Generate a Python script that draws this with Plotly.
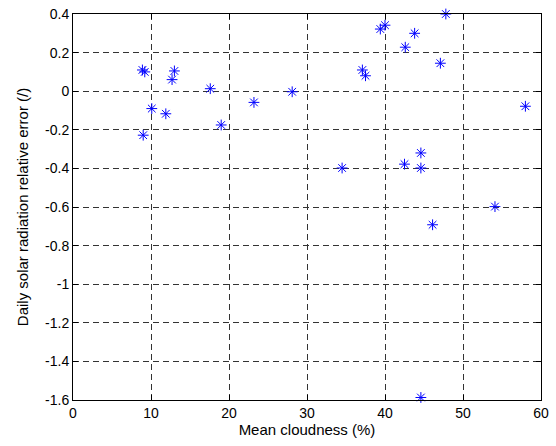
import plotly.graph_objects as go

cloudness = [8.9, 9.2, 13.0, 12.7, 10.1, 11.9, 9.0, 17.6, 19.0, 23.2, 28.1,
             47.8, 40.0, 39.4, 43.8, 42.6, 47.1, 37.1, 37.5, 58.0, 44.6, 42.5,
             44.6, 34.5, 54.1, 46.1, 44.6]
rel_error = [0.11, 0.10, 0.105, 0.06, -0.09, -0.117, -0.228, 0.013, -0.175, -0.058, -0.003,
             0.40, 0.342, 0.322, 0.30, 0.228, 0.145, 0.11, 0.08, -0.078, -0.32, -0.378,
             -0.398, -0.398, -0.598, -0.692, -1.587]

xticks = [0, 10, 20, 30, 40, 50, 60]
yticks = [0.4, 0.2, 0, -0.2, -0.4, -0.6, -0.8, -1, -1.2, -1.4, -1.6]
yticklabels = ["0.4", "0.2", "0", "-0.2", "-0.4", "-0.6", "-0.8", "-1", "-1.2", "-1.4", "-1.6"]

FONT = "Liberation Sans, Arial"

fig = go.Figure()
fig.add_trace(go.Scatter(
    x=cloudness, y=rel_error, mode="markers",
    marker=dict(symbol="asterisk-open", size=9, color="#0000FF",
                line=dict(color="#0000FF", width=1)),
    cliponaxis=False,
))

axis_common = dict(
    showgrid=True, gridcolor="#333333", gridwidth=1, griddash="6px,4px",
    showline=True, linecolor="black", linewidth=1, mirror="allticks",
    ticks="inside", ticklen=5, tickcolor="black",
    zeroline=False, automargin=False,
    tickfont=dict(family=FONT, size=14, color="black"),
)

fig.update_xaxes(range=[0, 60], tickvals=xticks, **axis_common,
                 title=dict(text="Mean cloudness (%)", standoff=4,
                            font=dict(family=FONT, size=15, color="black")))
fig.update_yaxes(range=[-1.6, 0.4], tickvals=yticks, ticktext=yticklabels, **axis_common,
                 title=dict(text="Daily solar radiation relative error (/)", standoff=12,
                            font=dict(family=FONT, size=15, color="black")))

fig.update_layout(
    width=556, height=446,
    margin=dict(l=73, r=15, t=14, b=46),
    plot_bgcolor="white", paper_bgcolor="white",
    showlegend=False,
)

fig.write_html("out.html", config={"displayModeBar": False},
               post_script="document.body.style.margin='0';")
